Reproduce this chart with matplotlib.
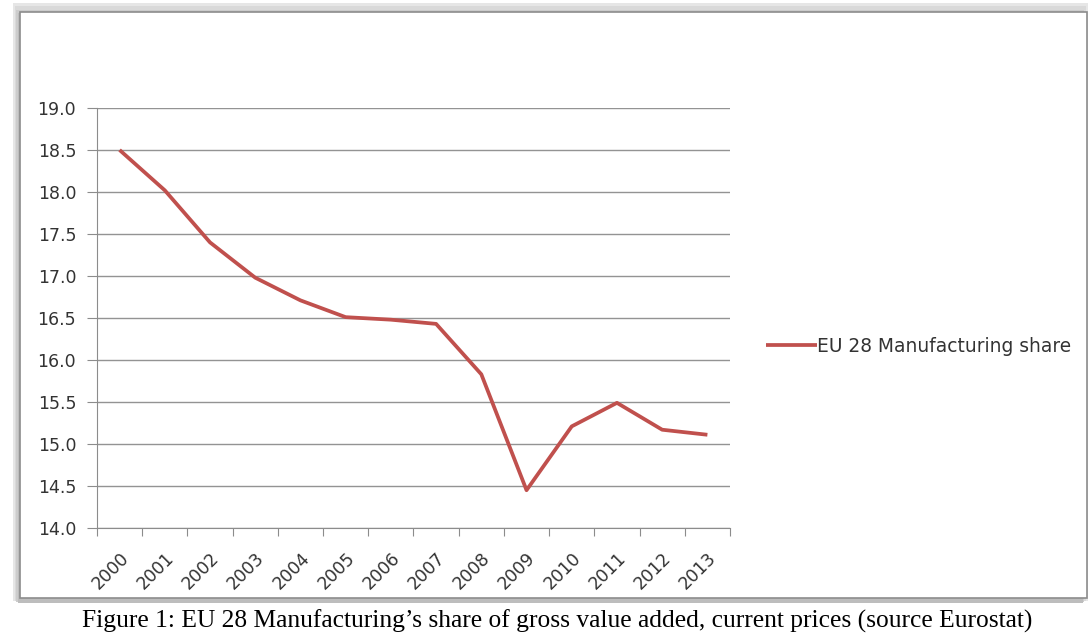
import matplotlib.pyplot as plt
import numpy as np
from matplotlib.patches import Rectangle

years = ['2000', '2001', '2002', '2003', '2004', '2005', '2006',
         '2007', '2008', '2009', '2010', '2011', '2012', '2013']
share = [18.50, 18.02, 17.40, 16.98, 16.71, 16.51, 16.48,
         16.43, 15.83, 14.45, 15.21, 15.49, 15.17, 15.11]
y_ticks = [14.0, 14.5, 15.0, 15.5, 16.0, 16.5, 17.0, 17.5, 18.0, 18.5, 19.0]

fig = plt.figure(figsize=(10.92, 6.39), dpi=100)
fig.patch.set_facecolor('white')

# screenshot frame with a soft grey shadow
for i, c in enumerate(['#e6e6e6', '#d9d9d9', '#cccccc', '#bdbdbd']):
    fig.add_artist(Rectangle((0.012 + i * 0.0015, 0.06 - i * 0.001),
                             0.984 - i * 0.003, 0.935 - i * 0.004,
                             transform=fig.transFigure, facecolor=c,
                             edgecolor='none', zorder=-10 + i))
fig.add_artist(Rectangle((0.0185, 0.064), 0.977, 0.917,
                         transform=fig.transFigure, facecolor='white',
                         edgecolor='#8c8c8c', lw=1.2, zorder=-5))

ax = fig.add_axes([0.0888, 0.1737, 0.5797, 0.6573])
ax.set_facecolor('none')
x = np.arange(len(years))
ax.plot(x, share, color='#c0504d', lw=2.7, solid_capstyle='butt',
        label='EU 28 Manufacturing share')

ax.set_xlim(-0.5, len(years) - 0.5)
ax.set_ylim(14.0, 19.0)
ax.set_yticks(y_ticks)
ax.set_yticklabels([f'{v:.1f}' for v in y_ticks])
ax.yaxis.grid(True, color='#939393', lw=1)
ax.set_axisbelow(True)

ax.set_xticks(np.arange(-0.5, len(years), 1.0))
ax.set_xticklabels([])
ax.set_xticks(x, minor=True)
ax.set_xticklabels(years, minor=True, rotation=45, ha='right',
                   rotation_mode='anchor')
ax.tick_params(axis='x', which='major', length=6, color='#8c8c8c')
ax.tick_params(axis='x', which='minor', length=0, pad=15)
ax.tick_params(axis='y', length=7, color='#8c8c8c', pad=8)
for lab in ax.get_xticklabels(minor=True):
    lab.set_fontsize(12.5)
    lab.set_color('#333333')
for lab in ax.get_yticklabels():
    lab.set_fontsize(12.5)
    lab.set_color('#333333')

for s in ['top', 'right']:
    ax.spines[s].set_visible(False)
ax.spines['left'].set_color('#8c8c8c')
ax.spines['bottom'].set_color('#8c8c8c')

leg = ax.legend(loc='center left', bbox_to_anchor=(1.03, 0.433), frameon=False,
                handlelength=2.75, handletextpad=0.0,
                prop={'size': 13.4})
for t in leg.get_texts():
    t.set_color('#333333')

fig.text(0.51, 0.027, 'Figure 1: EU 28 Manufacturing\u2019s share of gross value '
         'added, current prices (source Eurostat)', ha='center', va='center',
         family='Liberation Serif', fontsize=18.4)

fig.savefig('out.png', dpi=100)
